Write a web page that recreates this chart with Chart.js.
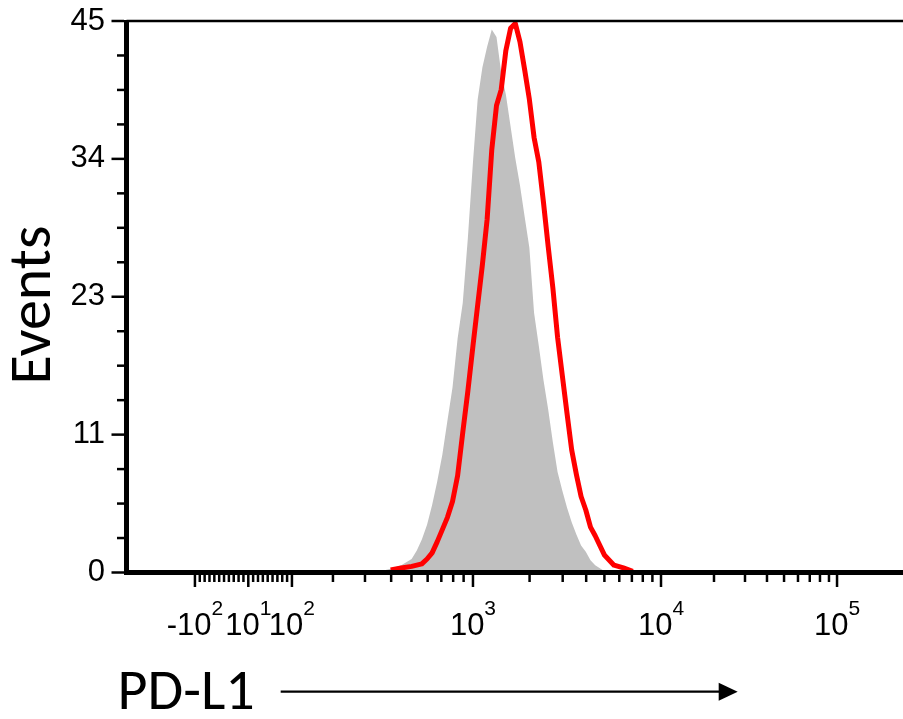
<!DOCTYPE html>
<html><head><meta charset="utf-8">
<script src="https://cdn.jsdelivr.net/npm/chart.js@4.4.1/dist/chart.umd.min.js"></script>
<style>html,body{margin:0;padding:0;background:#fff;overflow:hidden}#wrap{position:relative;width:903px;height:719px}</style>
</head><body><div id="wrap"><canvas id="c" width="903" height="719"></canvas></div>
<script>
// ---- data (fluorescence bin centres, PD-L1 channel) ----
const binValues = [316,355,398,447,501,531,562,596,631,668,708,750,794,841,891,944,1000,1059,1122,1189,1259,1334,1413,1496,1585,1679,1778,1884,1995,2113,2239,2371,2512,2661,2818,2985,3162,3350,3548,3758,3981,4217,4467,5012,5623,6310,7079,7943];
const isotypeCounts = [0.0,0.1,0.3,0.6,1.1,1.8,2.7,3.9,5.5,7.4,9.6,12.4,15.1,19.1,22.0,27.3,33.5,38.6,41.2,42.9,44.3,43.7,40.8,39.0,36.4,33.8,31.6,29.0,26.5,21.2,18.5,15.7,13.3,10.6,8.2,6.7,5.3,4.1,3.1,2.2,1.7,1.0,0.6,0.1,0,0,0,0];
const pdl1Counts = [null,null,0.2,0.37,0.5,0.6,0.7,1.1,1.6,2.5,3.5,4.5,5.8,7.9,11.4,14.8,18.5,21.8,25.1,28.8,34.5,38.1,39.4,42.6,44.4,44.8,43.3,41.0,38.6,35.5,33.5,30.2,26.6,23.2,19.2,16.1,13.0,10.0,8.0,6.2,5.1,3.7,3.0,1.4,0.6,0.37,0.1,null];
const xTickValues = [-100,10,100,1000,10000,100000];
const xTickLabels = ['-10²','10¹','10²','10³','10⁴','10⁵'];
const yTickValues = [0,11.25,22.5,33.75,45];
const yTickLabels = ['0','11','23','34','45'];
const xMin = -283, xMax = 237000;
const yMin = 0, yMax = 45;

// ---- biexponential display transform (display units) ----
const LIN_SLOPE = 0.485;
const LOG_ANCHORS = [[2,48.5],[2.301,89.5],[2.477,121.5],[2.699,168],[3,229.5],[4,417.5],[5,593.5]];
function biex(v){
  const a = Math.abs(v), s = v < 0 ? -1 : 1;
  if (a <= 100) return v * LIN_SLOPE;
  const L = Math.log10(a);
  for (let i = 1; i < LOG_ANCHORS.length; i++){
    if (L <= LOG_ANCHORS[i][0] || i === LOG_ANCHORS.length - 1){
      const [l0,d0] = LOG_ANCHORS[i-1], [l1,d1] = LOG_ANCHORS[i];
      return s * (d0 + (L - l0) * (d1 - d0) / (l1 - l0));
    }
  }
}
const SUPMAP = {'⁰':'0','¹':'1','²':'2','³':'3','⁴':'4','⁵':'5','⁶':'6','⁷':'7','⁸':'8','⁹':'9','⁻':'-'};
const TICK_FAMILY = "'Liberation Sans', Arial, sans-serif";
const TITLE_FAMILY = "Carlito, 'Open Sans', 'Noto Sans', sans-serif";

class BiexScale extends Chart.LinearScale {
  static id = 'biex';
  static defaults = {};
  buildTicks(){ return xTickValues.map(v => ({value: v})); }
  getPixelForValue(v){
    const a = biex(this.min), b = biex(this.max);
    return this.getPixelForDecimal((biex(v) - a) / (b - a));
  }
  getValueForPixel(p){
    const a = biex(this.min), b = biex(this.max);
    const t = a + this.getDecimalForPixel(p) * (b - a);
    let lo = this.min, hi = this.max;
    for (let i = 0; i < 80; i++){ const m = (lo + hi) / 2; if (biex(m) < t) lo = m; else hi = m; }
    return (lo + hi) / 2;
  }
  drawLabels(){
    const ctx = this.ctx;
    const baseFont = '31px ' + TICK_FAMILY, supFont = '21px ' + TICK_FAMILY;
    const yBase = this.top + 62.5;
    ctx.save();
    ctx.fillStyle = '#000'; ctx.textBaseline = 'alphabetic'; ctx.textAlign = 'left';
    this.ticks.forEach(t => {
      const m = String(t.label).match(/^(.*?)([⁰¹²³⁴⁵⁶⁷⁸⁹⁻]*)$/);
      const base = m[1], sup = m[2].split('').map(c => SUPMAP[c]).join('');
      ctx.font = baseFont; const wb = ctx.measureText(base).width;
      ctx.font = supFont; const ws = ctx.measureText(sup).width;
      const x0 = this.getPixelForValue(t.value) - (wb + ws) / 2;
      ctx.font = baseFont; ctx.fillText(base, x0, yBase);
      ctx.font = supFont; ctx.fillText(sup, x0 + wb, yBase - 20);
    });
    ctx.restore();
  }
  drawTitle(){
    const ctx = this.ctx;
    const shift = -9;
    ctx.save(); ctx.translate(shift, 4.5); super.drawTitle(); ctx.restore();
    // arrow after the title
    const f = Chart.helpers.toFont(this.options.title.font);
    ctx.save();
    ctx.font = f.string;
    const textEnd = this.left + shift + ctx.measureText(this.options.title.text).width;
    const y = this.bottom - 27.3;
    const x1 = textEnd + 26, tip = x1 + 457;
    ctx.strokeStyle = '#000'; ctx.fillStyle = '#000'; ctx.lineWidth = 2.2;
    ctx.beginPath(); ctx.moveTo(x1, y); ctx.lineTo(tip - 16, y); ctx.stroke();
    ctx.beginPath(); ctx.moveTo(tip - 19, y - 9); ctx.lineTo(tip, y); ctx.lineTo(tip - 19, y + 9); ctx.closePath(); ctx.fill();
    ctx.restore();
  }
}
class ShiftedLinear extends Chart.LinearScale {
  static id = 'shiftedLinear';
  static defaults = {};
  drawTitle(){ const ctx = this.ctx; ctx.save(); ctx.translate(0, 8.3); super.drawTitle(); ctx.restore(); }
}
Chart.register(BiexScale, ShiftedLinear);

// frame, axis lines and tick marks
const axisDecor = {
  id: 'axisDecor',
  afterDraw(chart){
    const {ctx, chartArea: ca, scales: {x, y}} = chart;
    ctx.save();
    ctx.strokeStyle = '#000'; ctx.lineCap = 'butt';
    // top frame
    ctx.lineWidth = 2.5;
    ctx.beginPath(); ctx.moveTo(ca.left, ca.top); ctx.lineTo(ca.right, ca.top); ctx.stroke();
    // y ticks
    ctx.lineWidth = 2.5;
    const yl = ca.left - 2.5;
    for (let k = 0; k <= 16; k++){
      const v = yMin + (yMax - yMin) * k / 16;
      const py = y.getPixelForValue(v);
      const len = (k % 4 === 0) ? 12.5 : 7;
      ctx.beginPath(); ctx.moveTo(yl - len, py); ctx.lineTo(yl, py); ctx.stroke();
    }
    // x ticks
    const xb = ca.bottom + 2.5;
    const minor = [];
    for (let v = -90; v <= 90; v += 10) if (v !== 10) minor.push(v);
    [100, 1000, 10000].forEach(d => { for (let m = 2; m <= 9; m++) minor.push(d * m); });
    minor.forEach(v => {
      const px = x.getPixelForValue(v);
      ctx.beginPath(); ctx.moveTo(px, xb); ctx.lineTo(px, xb + 7); ctx.stroke();
    });
    xTickValues.forEach(v => {
      const px = x.getPixelForValue(v);
      ctx.beginPath(); ctx.moveTo(px, xb); ctx.lineTo(px, xb + 12); ctx.stroke();
    });
    // axis lines
    ctx.lineWidth = 5;
    ctx.beginPath(); ctx.moveTo(ca.left, ca.top - 1); ctx.lineTo(ca.left, ca.bottom + 2.5); ctx.stroke();
    ctx.beginPath(); ctx.moveTo(ca.left - 2.5, ca.bottom); ctx.lineTo(ca.right, ca.bottom); ctx.stroke();
    ctx.restore();
  }
};

const toPoints = arr => binValues.map((v, i) => ({x: v, y: arr[i]}));

new Chart(document.getElementById('c'), {
  type: 'line',
  data: {
    datasets: [
      { label: 'PD-L1', data: toPoints(pdl1Counts), borderColor: '#ff0000', borderWidth: 5,
        backgroundColor: '#ff0000', fill: false, pointRadius: 0, tension: 0, spanGaps: false, borderJoinStyle: 'round' },
      { label: 'Isotype', data: toPoints(isotypeCounts), borderColor: 'rgba(0,0,0,0)', borderWidth: 0,
        backgroundColor: '#c0c0c0', fill: 'origin', pointRadius: 0, tension: 0 }
    ]
  },
  options: {
    responsive: false, animation: false, devicePixelRatio: 1,
    layout: { padding: { top: 21, left: 0, right: 0, bottom: 0 } },
    plugins: { legend: { display: false }, tooltip: { enabled: false } },
    scales: {
      x: {
        type: 'biex', position: 'bottom', min: xMin, max: xMax,
        grid: { display: false, drawTicks: false }, border: { display: false },
        ticks: { autoSkip: false, maxRotation: 0, callback: (v, i) => xTickLabels[i], font: { family: TICK_FAMILY, size: 31 }, color: '#000' },
        title: { display: true, text: 'PD-L1', align: 'start', color: '#000',
                 font: { family: TITLE_FAMILY, size: 58, lineHeight: 1 }, padding: { top: 0, bottom: 0 } },
        afterFit: s => { s.height = 146.5; s.paddingLeft = 0; s.paddingRight = 0; }
      },
      y: {
        type: 'shiftedLinear', position: 'left', min: yMin, max: yMax,
        grid: { display: false, drawTicks: false }, border: { display: false },
        afterBuildTicks: s => { s.ticks = yTickValues.map(v => ({value: v})); },
        ticks: { autoSkip: false, padding: 21.5, callback: (v, i) => yTickLabels[i], font: { family: TICK_FAMILY, size: 31 }, color: '#000' },
        title: { display: true, text: 'Events', color: '#000',
                 font: { family: TITLE_FAMILY, size: 60, lineHeight: 1 }, padding: { top: 4.5, bottom: 0 } },
        afterFit: s => { s.width = 126.5; s.paddingTop = 0; s.paddingBottom = 0; }
      }
    }
  },
  plugins: [axisDecor]
});
</script></body></html>
